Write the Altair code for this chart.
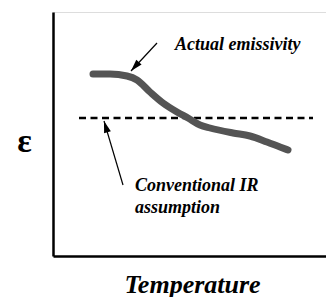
import altair as alt
import pandas as pd

# Data (plot units: x = temperature, y = emissivity)
curve_x = [40, 57, 74, 84, 97, 110, 124, 135, 147, 157, 180, 197, 214, 227, 235]
curve_y = [182, 182, 180, 176, 164, 153, 144, 138, 131, 128, 123, 120, 114, 109, 106]

conv_x = [26, 260]
conv_y = [138, 138]

arrow_tail_x = [104, 70]
arrow_tail_y = [213, 71]
arrow_head_x = [78, 51]
arrow_head_y = [185, 135]
arrow_angle = [222, 343]

label_text = ["Actual emissivity", "Conventional IR", "assumption"]
label_x = [122, 82, 82]
label_y = [206, 65, 43]

XD = [0, 273]
YD = [0, 244]

FONT = "Liberation Serif"

xs = alt.Scale(domain=XD, nice=False, zero=False)
ys = alt.Scale(domain=YD, nice=False, zero=False)

curve_df = pd.DataFrame({"x": curve_x, "y": curve_y})
conv_df = pd.DataFrame({"x": conv_x, "y": conv_y})
arrow_df = pd.DataFrame({"x": arrow_tail_x, "y": arrow_tail_y,
                         "x2": arrow_head_x, "y2": arrow_head_y,
                         "angle": arrow_angle})
label_df = pd.DataFrame({"text": label_text, "x": label_x, "y": label_y})

base_axes = alt.Chart(curve_df).mark_point(opacity=0).encode(
    x=alt.X("x:Q", scale=xs, axis=alt.Axis(
        title="Temperature", ticks=False, labels=False, grid=False,
        domainColor="black", domainWidth=2.5,
        titleFont=FONT, titleFontSize=26, titleFontStyle="italic",
        titleFontWeight="bold", titleColor="black",
        titleX=139, titleY=36, titleBaseline="alphabetic", titleAlign="center")),
    y=alt.Y("y:Q", scale=ys, axis=alt.Axis(
        title="ε", ticks=False, labels=False, grid=False,
        domainColor="black", domainWidth=2.5,
        titleFont=FONT, titleFontSize=34, titleFontWeight="bold",
        titleColor="black", titleAngle=0,
        titleX=-29, titleY=129, titleBaseline="middle", titleAlign="center")),
)

curve = alt.Chart(curve_df).mark_line(
    color="#545454", strokeWidth=7, strokeCap="round", strokeJoin="round",
    interpolate="monotone").encode(x=alt.X("x:Q", scale=xs), y=alt.Y("y:Q", scale=ys))

conv = alt.Chart(conv_df).mark_line(
    color="black", strokeWidth=2.5, strokeDash=[7, 4.5]).encode(
    x=alt.X("x:Q", scale=xs), y=alt.Y("y:Q", scale=ys))

shafts = alt.Chart(arrow_df).mark_rule(color="black", strokeWidth=1.2).encode(
    x=alt.X("x:Q", scale=xs), y=alt.Y("y:Q", scale=ys),
    x2="x2:Q", y2="y2:Q")

heads = alt.Chart(arrow_df).mark_point(
    shape="M0,0 L-0.3,1 L0.3,1 Z", filled=True, color="black", opacity=1,
    size=560).encode(
    x=alt.X("x2:Q", scale=xs), y=alt.Y("y2:Q", scale=ys),
    angle=alt.Angle("angle:Q", scale=None))

labels = alt.Chart(label_df).mark_text(
    font=FONT, fontSize=18, fontStyle="italic", fontWeight="bold",
    color="black", align="left", baseline="alphabetic").encode(
    x=alt.X("x:Q", scale=xs), y=alt.Y("y:Q", scale=ys), text="text:N")

chart = alt.layer(base_axes, conv, curve, shafts, heads, labels).properties(
    width=273, height=244,
    autosize=alt.AutoSizeParams(type="none"),
    padding={"left": 45, "top": 4, "right": 0, "bottom": 41},
).configure_view(stroke=None).configure(background="white")

chart.save("out.html", embed_options={"renderer": "svg", "actions": False})
